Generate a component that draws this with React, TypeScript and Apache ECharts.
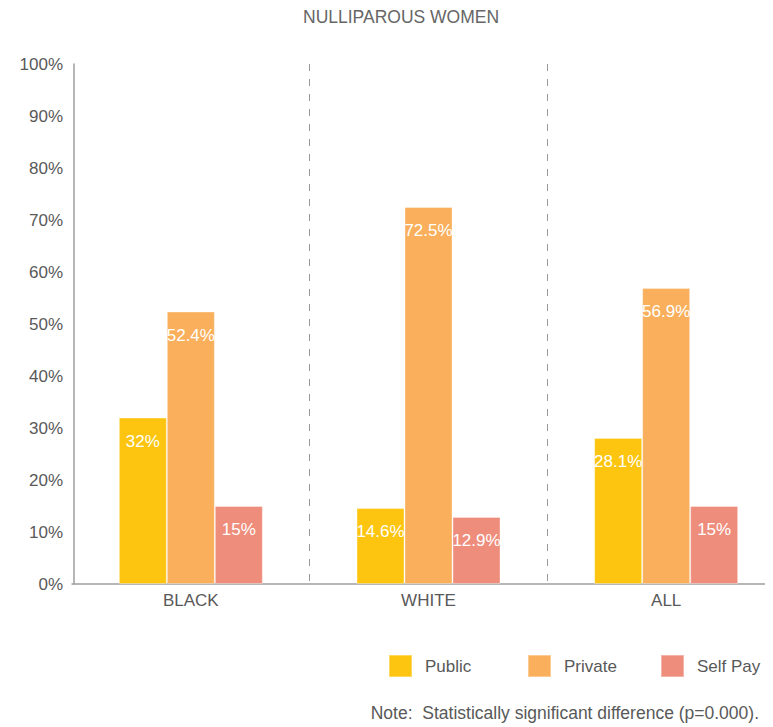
import React, { useEffect, useRef } from "react";
import * as echarts from "echarts";

const categories = ["BLACK", "WHITE", "ALL"];
const publicValues = [32, 14.6, 28.1];
const privateValues = [52.4, 72.5, 56.9];
const selfPayValues = [15, 12.9, 15];
const seriesNames = ["Public", "Private", "Self Pay"];
const seriesColors = ["#FDC50F", "#F9AF5B", "#EF8D7C"];
const titleText = "NULLIPAROUS WOMEN";
const noteText = "Note:  Statistically significant difference (p=0.000).";

const FONT = "'Liberation Sans', Arial, sans-serif";
const TEXT = "#595959";

export default function App() {
  const ref = useRef<HTMLDivElement>(null);
  useEffect(() => {
    if (!ref.current) return;
    const chart = echarts.init(ref.current, null, { renderer: "svg" });
    const values = [publicValues, privateValues, selfPayValues];
    const legendLefts = [388, 527, 660];
    chart.setOption({
      animation: false,
      textStyle: { fontFamily: FONT },
      title: {
        text: titleText,
        left: 303,
        top: 8,
        padding: 0,
        textStyle: { fontFamily: FONT, fontSize: 17.5, fontWeight: "normal", color: "#666" },
      },
      legend: seriesNames.map((n, i) => ({
        data: [n],
        left: legendLefts[i],
        top: 654,
        padding: 0,
        icon: "rect",
        itemWidth: 23,
        itemHeight: 22,
        textStyle: { fontFamily: FONT, fontSize: 17, color: TEXT, padding: [3, 0, 0, 8] },
      })),
      grid: {
        left: 72,
        top: 64,
        width: 713,
        height: 520,
        containLabel: false,
        outerBoundsMode: "none",
      },
      xAxis: {
        type: "category",
        data: categories,
        axisLine: { show: true, lineStyle: { color: "#9e9e9e", width: 1.5 } },
        axisTick: { show: false },
        axisLabel: { fontFamily: FONT, fontSize: 17, color: TEXT, margin: 8 },
        splitLine: {
          show: true,
          interval: (index: number) => index > 0,
          lineStyle: { color: "#999", type: [7, 8], width: 1 },
        },
      },
      yAxis: {
        type: "value",
        min: 0,
        max: 100,
        interval: 10,
        offset: -2,
        axisLine: { show: true, lineStyle: { color: "#9e9e9e", width: 1.5 } },
        axisTick: { show: false },
        splitLine: { show: false },
        axisLabel: { formatter: "{value}%", fontFamily: FONT, fontSize: 17, color: TEXT, margin: 11 },
      },
      series: seriesNames.map((n, i) => ({
        name: n,
        type: "bar",
        data: values[i],
        barWidth: 48,
        barGap: "0%",
        itemStyle: { color: seriesColors[i], borderColor: "rgba(255,255,255,0.35)", borderWidth: 1 },
        label: {
          show: true,
          position: "insideTop",
          distance: 15,
          formatter: "{c}%",
          color: "#fff",
          fontFamily: FONT,
          fontSize: 17,
        },
      })),
      graphic: [
        {
          type: "text",
          right: 6,
          top: 704,
          style: { text: noteText, fontFamily: FONT, fontSize: 17.5, fill: TEXT },
        },
      ],
    });
    return () => chart.dispose();
  }, []);
  return (
    <div
      ref={ref}
      style={{ position: "absolute", left: 0, top: 0, width: 765, height: 727, overflow: "hidden" }}
    />
  );
}
